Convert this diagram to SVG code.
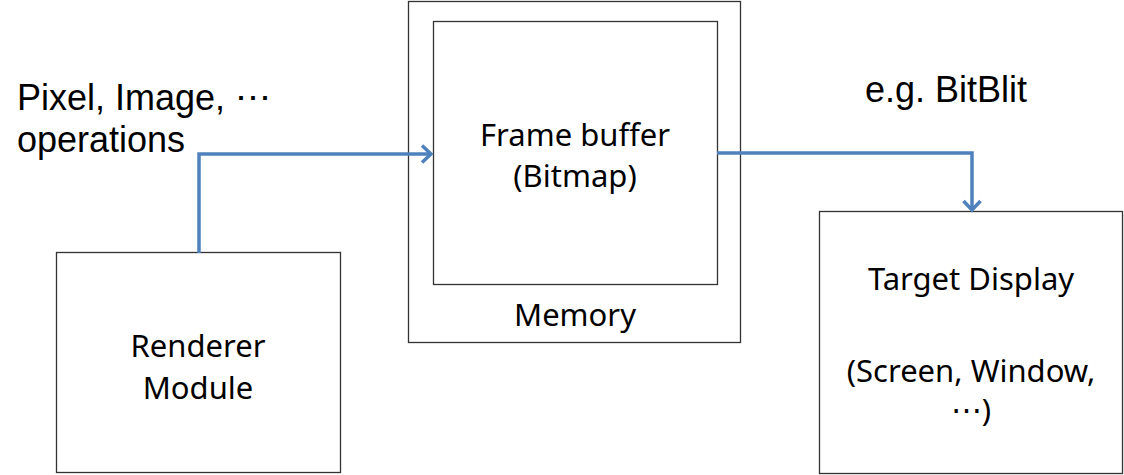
<svg xmlns="http://www.w3.org/2000/svg" width="1124" height="475" viewBox="0 0 1124 475">
<style>
.box{fill:#fff;stroke:#333;stroke-width:1.3}
.lbl{font-family:"Noto Sans","Open Sans",sans-serif;font-size:31px;fill:#000;text-anchor:middle}
.big{font-family:"Liberation Sans",Arial,sans-serif;font-size:36px;fill:#000}
.conn{fill:none;stroke:#4F81BD;stroke-width:3.5;stroke-linejoin:miter}
</style>
<defs>
<marker id="arr" markerUnits="userSpaceOnUse" markerWidth="24" markerHeight="24" refX="12" refY="12" orient="auto" viewBox="0 0 24 24">
<path d="M3 3.5 L12 12 L3 20.5" fill="none" stroke="#4F81BD" stroke-width="3.5"/>
</marker>
</defs>
<rect width="1124" height="475" fill="#fff"/>
<g id="renderer">
<rect class="box" x="56.5" y="252.5" width="284" height="220"/>
<text class="lbl" x="198" y="357">Renderer</text>
<text class="lbl" x="198" y="399">Module</text>
</g>
<g id="memory">
<rect class="box" x="408.5" y="1.5" width="332" height="341"/>
<text class="lbl" x="575" y="326">Memory</text>
</g>
<g id="framebuffer">
<rect class="box" x="433.5" y="21.5" width="284" height="263"/>
<text class="lbl" x="575" y="146">Frame buffer</text>
<text class="lbl" x="575" y="187">(Bitmap)</text>
</g>
<g id="target">
<rect class="box" x="819.5" y="211.5" width="303" height="262"/>
<text class="lbl" x="971" y="290">Target Display</text>
<text class="lbl" x="971" y="382">(Screen, Window,</text>
<text class="lbl" x="971" y="421">⋯)</text>
</g>
<g id="labels">
<text class="big" x="17" y="110">Pixel, Image, ⋯</text>
<text class="big" x="17" y="152">operations</text>
<text class="big" x="865" y="102">e.g. BitBlit</text>
</g>
<g id="connectors">
<path class="conn" d="M199 253 V154 H431" marker-end="url(#arr)"/>
<path class="conn" d="M717 153 H972 V210" marker-end="url(#arr)"/>
</g>
</svg>
